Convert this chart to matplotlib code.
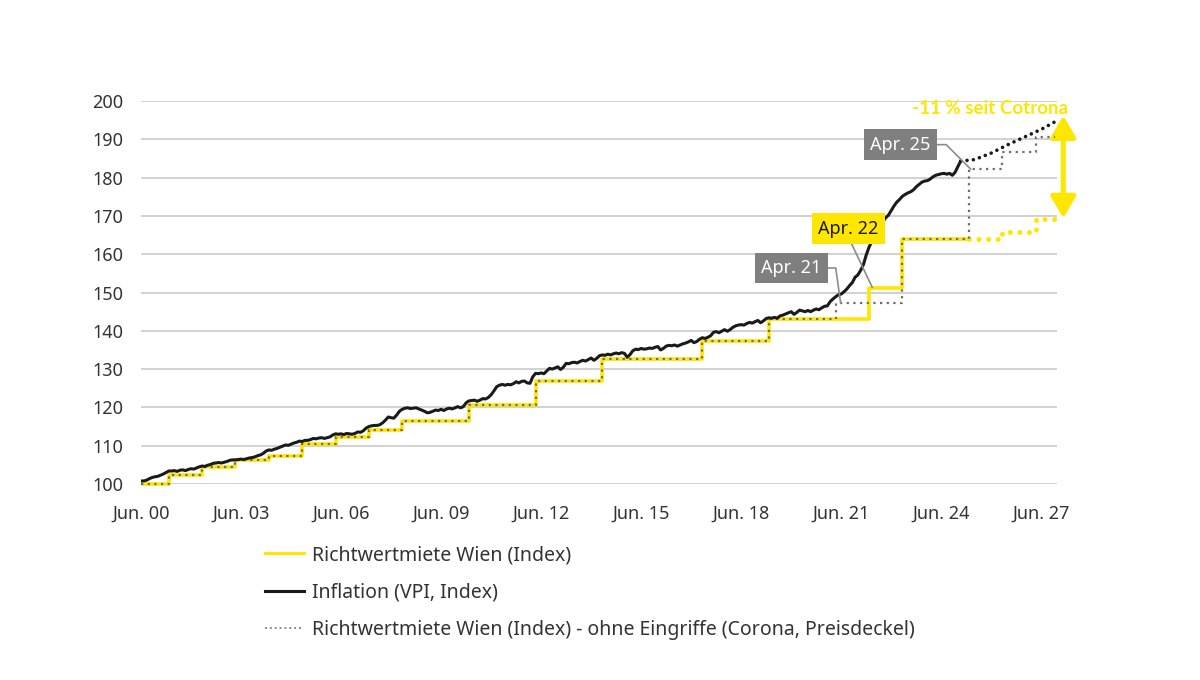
import numpy as np
import matplotlib.pyplot as plt
from matplotlib.lines import Line2D

plt.rcParams.update({
    "font.family": ["Noto Sans", "DejaVu Sans"],
    "font.size": 12.5,
})

YELLOW = "#FFE600"
GREY_BOX = "#7f7f7f"

# Inflation (VPI, Index) monthly, Jun 2000 .. Jan 2025 (one row = Jun..May)
vpi_rows = [
    [100.8, 100.8, 101.0, 101.4, 101.7, 101.9, 102.0, 102.3, 102.6, 103.0, 103.4, 103.4],
    [103.5, 103.3, 103.6, 103.7, 103.5, 103.8, 104.0, 103.9, 104.2, 104.5, 104.7, 104.6],
    [104.9, 105.1, 105.4, 105.5, 105.6, 105.5, 105.7, 105.9, 106.2, 106.3, 106.3, 106.4],
    [106.5, 106.4, 106.6, 106.8, 106.9, 107.1, 107.4, 107.6, 108.0, 108.6, 108.9, 108.8],
    [109.1, 109.3, 109.6, 109.9, 110.2, 110.1, 110.4, 110.7, 110.9, 111.2, 111.1, 111.4],
    [111.4, 111.6, 111.9, 111.8, 112.0, 112.1, 111.9, 112.1, 112.3, 112.8, 113.1, 113.0],
    [113.1, 112.9, 113.2, 113.1, 113.0, 113.2, 113.6, 113.5, 113.9, 114.6, 115.0, 115.2],
    [115.3, 115.3, 115.5, 116.0, 116.7, 117.5, 117.3, 117.2, 118.0, 119.0, 119.5, 119.8],
    [119.9, 119.7, 119.8, 119.9, 119.6, 119.3, 119.0, 118.6, 118.7, 119.0, 119.3, 119.2],
    [119.5, 119.2, 119.6, 119.8, 119.6, 119.9, 120.2, 119.9, 120.2, 121.2, 121.7, 121.8],
    [121.9, 121.6, 121.9, 122.3, 122.2, 122.6, 123.3, 124.3, 125.4, 125.8, 126.0, 125.8],
    [126.0, 125.9, 126.2, 126.7, 126.4, 126.8, 126.9, 126.4, 126.3, 128.0, 128.9, 128.8],
    [129.0, 128.8, 129.5, 130.2, 130.0, 130.3, 130.6, 129.9, 130.5, 131.5, 131.4, 131.7],
    [131.8, 131.6, 132.0, 132.3, 132.1, 132.5, 132.9, 132.3, 132.8, 133.5, 133.7, 133.6],
    [133.9, 133.7, 134.0, 134.2, 134.0, 134.3, 134.1, 133.1, 133.8, 134.8, 135.2, 135.1],
    [135.4, 135.2, 135.3, 135.5, 135.4, 135.7, 135.9, 135.0, 135.4, 136.0, 136.2, 136.1],
    [136.3, 136.0, 136.3, 136.6, 136.8, 137.1, 137.5, 136.9, 137.2, 137.8, 138.2, 138.0],
    [138.3, 138.7, 139.6, 139.8, 139.5, 139.9, 140.3, 139.9, 140.3, 140.9, 141.3, 141.5],
    [141.6, 141.5, 141.9, 142.2, 142.0, 142.4, 142.7, 142.1, 142.6, 143.2, 143.4, 143.3],
    [143.5, 143.3, 143.9, 144.1, 144.4, 144.7, 145.0, 144.3, 144.8, 145.4, 145.2, 145.0],
    [145.3, 145.0, 145.4, 145.7, 145.5, 146.0, 146.4, 146.5, 147.6, 148.3, 148.9, 149.4],
    [149.6, 150.2, 150.9, 151.8, 152.6, 154.0, 154.6, 155.8, 157.3, 159.8, 161.8, 163.4],
    [164.8, 166.1, 167.2, 168.6, 169.5, 170.2, 171.4, 172.6, 173.6, 174.3, 175.1, 175.6],
    [176.0, 176.3, 176.8, 177.6, 178.2, 178.8, 179.1, 179.2, 179.6, 180.2, 180.6, 180.8],
    [181.0, 181.1, 180.9, 181.1, 180.6, 181.4, 182.9, 184.3],
]

# Inflation forecast (dotted)
vpi_fc_dates = [(2025, 1), (2025, 6), (2025, 12), (2026, 6), (2026, 12), (2027, 6), (2027, 11)]
vpi_fc = [184.3, 184.7, 186.4, 188.6, 190.6, 192.6, 194.6]

# Richtwertmiete Wien (Index): adjustments in April
rw_dates = [(2000, 6), (2001, 4), (2002, 4), (2003, 4), (2004, 4), (2005, 4), (2006, 4),
            (2007, 4), (2008, 4), (2010, 4), (2012, 4), (2014, 4), (2017, 4), (2019, 4),
            (2022, 4), (2023, 4), (2025, 4)]
rw_vals = [100.0, 102.3, 104.5, 106.3, 107.4, 110.5, 112.4, 114.1, 116.5, 120.6, 126.9,
           132.6, 137.3, 143.1, 151.3, 164.0, 164.0]

# Richtwertmiete forecast (dotted yellow)
rw_fc_dates = [(2025, 4), (2026, 4), (2027, 4), (2027, 11)]
rw_fc_vals = [164.0, 165.9, 169.2, 169.2]

# Richtwertmiete ohne Eingriffe (Corona, Preisdeckel)
oe_dates = rw_dates[:14] + [(2021, 4), (2023, 4), (2025, 4), (2026, 4), (2027, 4), (2027, 11)]
oe_vals = rw_vals[:14] + [147.2, 164.0, 182.2, 186.8, 190.7, 190.7]

x_ticks = [0, 3, 6, 9, 12, 15, 18, 21, 24, 27]
x_labels = ["Jun. 00", "Jun. 03", "Jun. 06", "Jun. 09", "Jun. 12",
            "Jun. 15", "Jun. 18", "Jun. 21", "Jun. 24", "Jun. 27"]
y_ticks = list(range(100, 201, 10))

labels = ["Richtwertmiete Wien (Index)", "Inflation (VPI, Index)",
          "Richtwertmiete Wien (Index) - ohne Eingriffe (Corona, Preisdeckel)"]


def t(d):
    # years since Jun 2000
    return (d[0] - 2000) + (d[1] - 6) / 12


vpi = np.concatenate([np.array(r) for r in vpi_rows])
vpi_t = np.arange(len(vpi)) / 12

fig = plt.figure(figsize=(12, 6.8), dpi=100)
ax = fig.add_axes([0.1175, 0.2882, 0.7633, 0.5633])

ax.set_xlim(0, 27.47)
ax.set_ylim(100, 200)
ax.set_yticks(y_ticks)
ax.set_xticks(x_ticks)
ax.set_xticklabels(x_labels)
ax.grid(axis="y", color="#cacaca", lw=1.2, zorder=0)
for s in ax.spines.values():
    s.set_visible(False)
ax.tick_params(length=0, colors="#333333", labelsize=13)
ax.tick_params(axis="y", pad=13)
ax.tick_params(axis="x", pad=15)

# yellow actual
rw_t = [t(d) for d in rw_dates]
ax.plot(rw_t, rw_vals, drawstyle="steps-post", color=YELLOW, lw=2.6,
        solid_capstyle="butt", clip_on=False, zorder=3)
# yellow forecast
ax.plot([t(d) for d in rw_fc_dates], rw_fc_vals, drawstyle="steps-post", color=YELLOW,
        lw=3.6, linestyle=(0, (0.01, 1.9)), dash_capstyle="round", clip_on=False, zorder=3)
# grey dotted, without interventions
ax.plot([t(d) for d in oe_dates], oe_vals, drawstyle="steps-post", color="#6b6b6b",
        lw=1.6, linestyle=(0, (1, 2)), clip_on=False, zorder=4)
# inflation
ax.plot(vpi_t, vpi, color="#1a1a1a", lw=2.2, zorder=5)
ax.plot([t(d) for d in vpi_fc_dates], vpi_fc, color="#1a1a1a", lw=2.6,
        linestyle=(0, (0.01, 1.75)), dash_capstyle="round", clip_on=False, zorder=5)

# callouts
box_grey = dict(boxstyle="square,pad=0.35", fc=GREY_BOX, ec="none")
box_yel = dict(boxstyle="square,pad=0.35", fc=YELLOW, ec="none")
line_kw = dict(arrowstyle="-", color="#8c8c8c", lw=1.2, shrinkA=0, shrinkB=0)

ax.annotate("Apr. 21", xy=(t((2021, 4)) + 0.15, oe_vals[14]), xytext=(19.5, 156.4),
            color="white", fontsize=13, ha="center", va="center", bbox=box_grey,
            arrowprops=dict(line_kw, connectionstyle="angle,angleA=0,angleB=98,rad=0",
                            relpos=(1, 0.5)), zorder=6)
ax.annotate("Apr. 22", xy=(t((2022, 4)) + 0.1, rw_vals[14]), xytext=(21.22, 166.7),
            color="#1a1a1a", fontsize=13, ha="center", va="center", bbox=box_yel,
            arrowprops=dict(line_kw, relpos=(0.5, 0)), zorder=6)
ax.annotate("Apr. 25", xy=(t((2025, 4)) + 0.05, oe_vals[16]), xytext=(22.77, 188.6),
            color="white", fontsize=13, ha="center", va="center", bbox=box_grey,
            arrowprops=dict(line_kw, connectionstyle="angle,angleA=0,angleB=135,rad=0",
                            relpos=(1, 0.5)), zorder=6)

# gap arrow
ax.annotate("", xy=(27.66, rw_fc_vals[-1] + 0.2), xytext=(27.66, vpi_fc[-1] + 1.6),
            arrowprops=dict(arrowstyle="<|-|>,head_length=0.65,head_width=0.38",
                            color=YELLOW, lw=3.6, shrinkA=0, shrinkB=0,
                            mutation_scale=20), annotation_clip=False)
ax.text(25.47, 198.0, "-11 % seit Cotrona", color=YELLOW, fontsize=13.5,
        family=["Lato", "DejaVu Sans"], fontweight="bold",
        ha="center", va="center", clip_on=False)

handles = [
    Line2D([], [], color=YELLOW, lw=2.2),
    Line2D([], [], color="#1a1a1a", lw=2.2),
    Line2D([], [], color="#8c8c8c", lw=1.4, linestyle=(0, (1, 1.5))),
]
fig.legend(handles, labels, loc="upper left", bbox_to_anchor=(265 / 1200, 1 - 545 / 680),
           frameon=False, fontsize=14, handlelength=2.0, handletextpad=0.4,
           labelspacing=0.9, borderaxespad=0, borderpad=0, labelcolor="#333333")

fig.savefig("out.png", dpi=100)
